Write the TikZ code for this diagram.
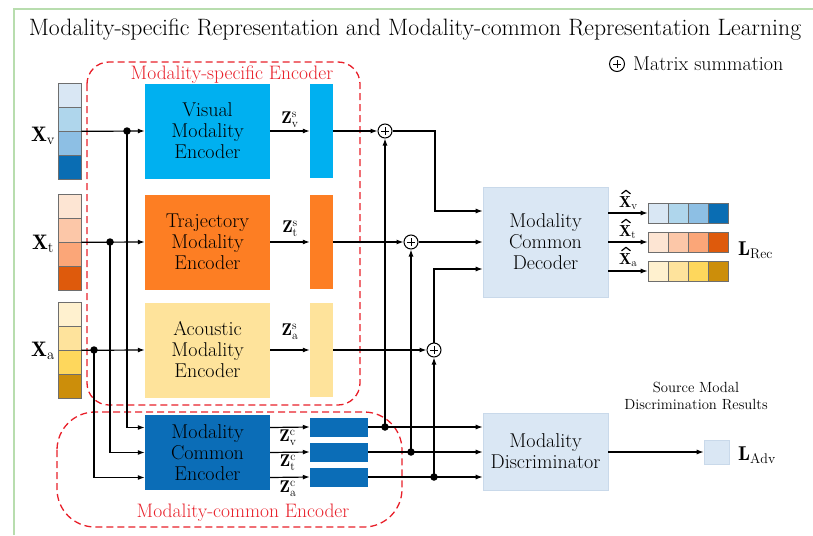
\documentclass[tikz,border=0pt]{standalone}
\usepackage{fontspec}
\usetikzlibrary{arrows.meta}
\definecolor{framegreen}{HTML}{B8DDAE}
\definecolor{dashred}{HTML}{E8202A}
\definecolor{cellgray}{HTML}{6E6E6E}
\definecolor{visblue}{HTML}{00B0F0}
\definecolor{traorange}{HTML}{FD7E23}
\definecolor{acoyellow}{HTML}{FEE39B}
\definecolor{comblue}{HTML}{0B6DB7}
\definecolor{paleblue}{HTML}{DAE7F4}
\definecolor{paleedge}{HTML}{C9D9EA}
\definecolor{vA}{HTML}{D9E7F4}\definecolor{vB}{HTML}{AFD6EC}\definecolor{vC}{HTML}{8DBFE4}\definecolor{vD}{HTML}{0A6DB3}
\definecolor{tA}{HTML}{FDE5D3}\definecolor{tB}{HTML}{FCC7A8}\definecolor{tC}{HTML}{FBA678}\definecolor{tD}{HTML}{DE5A0C}
\definecolor{aA}{HTML}{FFF1CF}\definecolor{aB}{HTML}{FEE39C}\definecolor{aC}{HTML}{FED75C}\definecolor{aD}{HTML}{CC8E0A}
\newcommand\encfnt{\fontsize{20}{21}\selectfont}
\newcommand\redfnt{\fontsize{19.5}{22}\selectfont}
\newcommand\legfnt{\fontsize{20}{22}\selectfont}
\newcommand\srcfnt{\fontsize{14.7}{17}\selectfont}
\newcommand\zfnt{\fontsize{17}{20}\selectfont}
\newcommand\hatfnt{\fontsize{16}{20}\selectfont}
\newcommand\xfnt{\fontsize{21}{24}\selectfont}
\newcommand\lfnt{\fontsize{20}{24}\selectfont}
\begin{document}
\begin{tikzpicture}[x=1pt,y=-1pt,
  encbox/.style={minimum width=125pt,minimum height=95pt,inner sep=0pt,align=center,font=\encfnt},
  palebox/.style={encbox,fill=paleblue,draw=paleedge,line width=0.6pt},
  vbar/.style={minimum width=23pt,minimum height=94pt,inner sep=0pt},
  hbar/.style={minimum width=58pt,minimum height=19pt,inner sep=0pt,fill=comblue},
  vcell/.style={draw=cellgray,line width=0.6pt,minimum width=23pt,minimum height=24pt,inner sep=0pt},
  hcell/.style={draw=cellgray,line width=0.6pt,minimum width=20pt,minimum height=20pt,inner sep=0pt},
  conn/.style={line width=1.2pt,-{Latex[length=7pt,width=5pt]}},
  jdot/.style={circle,fill=black,inner sep=0pt,minimum size=7.5pt},
  psum/.style={circle,draw,fill=white,line width=1pt,minimum size=14pt,inner sep=0pt,
    path picture={\draw[line width=0.9pt]
      ([xshift=-3.8pt]path picture bounding box.center) -- ([xshift=3.8pt]path picture bounding box.center)
      ([yshift=-3.8pt]path picture bounding box.center) -- ([yshift=3.8pt]path picture bounding box.center);}},
  dashframe/.style={draw=dashred,line width=1.3pt,dash pattern=on 7pt off 4pt},
  redlabel/.style={text=dashred,font=\redfnt,inner sep=0pt},
  mlab/.style={inner sep=0pt},
  hatlab/.style={inner sep=0pt,font=\hatfnt,anchor=base west},
  hatline/.style={line width=1.2pt,line join=round}
]
\useasboundingbox (0,0) rectangle (813,535);

% outer frame lines
\draw[framegreen,line width=1.5pt] (14,535) -- (14,9) -- (813,9);

% title and legend
\node[inner sep=0pt] (title) at (415,30) {\fontsize{23.7}{26}\selectfont Modality-specific Representation and Modality-common Representation Learning};
\node[psum,minimum size=15pt] (legsum) at (617,64) {};
\node[anchor=west,font=\legfnt,inner sep=0pt] (legtext) at (633,64) {Matrix summation};

% dashed group frames
\draw[dashframe,rounded corners=22pt] (87,62) rectangle (360,405);
\draw[dashframe,rounded corners=38pt] (57,412) rectangle (402,527);
\node[redlabel] (speclab) at (232,75) {Modality-specific Encoder};
\node[redlabel] (comlab) at (243,513) {Modality-common Encoder};

% input feature vectors
\foreach \c [count=\i] in {vA,vB,vC,vD}
  \node[vcell,fill=\c] (xv\i) at (69.5,{95+24*(\i-1)}) {};
\foreach \c [count=\i] in {tA,tB,tC,tD}
  \node[vcell,fill=\c] (xt\i) at (69.5,{206+24*(\i-1)}) {};
\foreach \c [count=\i] in {aA,aB,aC,aD}
  \node[vcell,fill=\c] (xa\i) at (69.5,{314+24*(\i-1)}) {};
\node[mlab,font=\xfnt] (lxv) at (43,136) {$\mathbf{X}_{\mathrm{v}}$};
\node[mlab,font=\xfnt] (lxt) at (43,244) {$\mathbf{X}_{\mathrm{t}}$};
\node[mlab,font=\xfnt] (lxa) at (43,351) {$\mathbf{X}_{\mathrm{a}}$};

% encoders
\node[encbox,fill=visblue] (venc) at (207.5,131) {Visual\\Modality\\Encoder};
\node[encbox,fill=traorange] (tenc) at (207.5,242) {Trajectory\\Modality\\Encoder};
\node[encbox,fill=acoyellow] (aenc) at (207.5,350) {Acoustic\\Modality\\Encoder};
\node[encbox,fill=comblue,minimum height=75pt] (cenc) at (207.5,452.5) {Modality\\Common\\Encoder};

% specific representations
\node[vbar,fill=visblue] (zv) at (321.5,131) {};
\node[vbar,fill=traorange] (zt) at (321.5,242) {};
\node[vbar,fill=acoyellow] (za) at (321.5,350) {};
% common representations
\node[hbar] (cv) at (339,427) {};
\node[hbar] (ct) at (339,452) {};
\node[hbar] (ca) at (339,477) {};

% summation nodes
\node[psum] (pv) at (385,131) {};
\node[psum] (pt) at (411,242) {};
\node[psum] (pa) at (434,350) {};

% decoder and discriminator
\node[palebox,minimum height=110pt] (dec) at (545.5,242) {Modality\\Common\\Decoder};
\node[palebox,minimum height=77pt] (disc) at (545.5,451.5) {Modality\\Discriminator};

% reconstructed vectors
\foreach \c [count=\i] in {vA,vB,vC,vD}
  \node[hcell,fill=\c] (ov\i) at ({638+20*\i},213) {};
\foreach \c [count=\i] in {tA,tB,tC,tD}
  \node[hcell,fill=\c] (ot\i) at ({638+20*\i},242) {};
\foreach \c [count=\i] in {aA,aB,aC,aD}
  \node[hcell,fill=\c] (oa\i) at ({638+20*\i},271) {};
% reconstruction labels, hats drawn as strokes
\node[hatlab] (hxv) at (619,207) {$\mathbf{X}_{\mathrm{v}}$};
\node[hatlab] (hxt) at (619,236) {$\mathbf{X}_{\mathrm{t}}$};
\node[hatlab] (hxa) at (619,264) {$\mathbf{X}_{\mathrm{a}}$};
\foreach \h in {hxv,hxt,hxa}
  \draw[hatline] ([xshift=2.5pt,yshift=2pt]\h.north west) -- ([xshift=7pt,yshift=5.5pt]\h.north west) -- ([xshift=11.5pt,yshift=2pt]\h.north west);
\node[mlab,font=\lfnt,anchor=west] (lrec) at (738,250) {$\mathbf{L}_{\mathrm{Rec}}$};

% adversarial output
\node[fill=paleblue,draw=paleedge,line width=0.6pt,minimum width=25pt,minimum height=24pt,inner sep=0pt] (adv) at (716.5,452) {};
\node[mlab,font=\lfnt,anchor=west] (ladv) at (738,455) {$\mathbf{L}_{\mathrm{Adv}}$};
\node[font=\srcfnt,align=center,inner sep=0pt] (srclab) at (696,396) {Source Modal\\Discrimination Results};

% junction dots on the inputs
\node[jdot] (dv) at (127,131) {};
\node[jdot] (dt) at (110,242) {};
\node[jdot] (da) at (94,350) {};
\coordinate (cin1) at ([yshift=25pt]cenc.west);
\coordinate (cin2) at (cenc.west);
\coordinate (cin3) at ([yshift=-25pt]cenc.west);

% inputs to specific encoders
\draw[conn] (xv2.south east) -- (venc.west);
\draw[conn] (xt2.south east) -- (tenc.west);
\draw[conn] (xa2.south east) -- (aenc.west);
% inputs to common encoder
\draw[conn] (dv.center) |- (cin1);
\draw[conn] (dt.center) |- (cin2);
\draw[conn] (da.center) |- (cin3);

% encoder outputs
\draw[conn] (venc.east) -- (zv.west);
\draw[conn] (tenc.east) -- (zt.west);
\draw[conn] (aenc.east) -- (za.west);
\draw[conn] (cin1 -| cenc.east) -- (cv.west);
\draw[conn] (cin2 -| cenc.east) -- (ct.west);
\draw[conn] (cin3 -| cenc.east) -- (ca.west);
\node[mlab,font=\zfnt] (lzvs) at (290,120) {$\mathbf{Z}_{\mathrm{v}}^{\mathrm{s}}$};
\node[mlab,font=\zfnt] (lzts) at (290,229) {$\mathbf{Z}_{\mathrm{t}}^{\mathrm{s}}$};
\node[mlab,font=\zfnt] (lzas) at (290,332) {$\mathbf{Z}_{\mathrm{a}}^{\mathrm{s}}$};
\node[mlab,font=\zfnt] (lzvc) at (288,438) {$\mathbf{Z}_{\mathrm{v}}^{\mathrm{c}}$};
\node[mlab,font=\zfnt] (lztc) at (288,463) {$\mathbf{Z}_{\mathrm{t}}^{\mathrm{c}}$};
\node[mlab,font=\zfnt] (lzac) at (288,489) {$\mathbf{Z}_{\mathrm{a}}^{\mathrm{c}}$};

% specific features into the summations
\draw[conn] (zv.east) -- (pv.west);
\draw[conn] (zt.east) -- (pt.west);
\draw[conn] (za.east) -- (pa.west);

% common features to the discriminator, tapped for the summations
\node[jdot] (jv) at (pv |- cv) {};
\node[jdot] (jt) at (pt |- ct) {};
\node[jdot] (ja) at (pa |- ca) {};
\draw[conn] (cv.east) -- (cv.east -| disc.west);
\draw[conn] (ct.east) -- (ct.east -| disc.west);
\draw[conn] (ca.east) -- (ca.east -| disc.west);
\draw[conn] (jv.center) -- (pv.south);
\draw[conn] (jt.center) -- (pt.south);
\draw[conn] (ja.center) -- (pa.south);

% summed features into the decoder
\coordinate (din1) at ([yshift=31pt]dec.west);
\coordinate (din3) at ([yshift=-27pt]dec.west);
\coordinate (kv) at (435,131);
\draw[conn] (pv.east) -- (kv) |- (din1);
\draw[conn] (pt.east) -- (pt.east -| dec.west);
\draw[conn] (pa.north) |- (din3);

% decoder outputs
\draw[conn] (ov1.west -| dec.east) -- (ov1.west);
\draw[conn] (ot1.west -| dec.east) -- (ot1.west);
\draw[conn] (oa1.west -| dec.east) -- (oa1.west);

% discriminator output
\draw[conn] (adv.west -| disc.east) -- (adv.west);
\end{tikzpicture}
\end{document}
